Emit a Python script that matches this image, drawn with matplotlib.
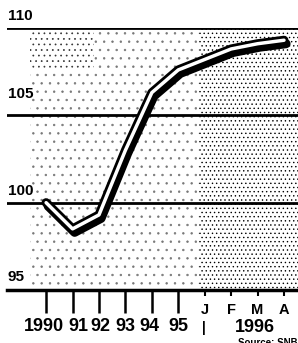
import numpy as np
import matplotlib
matplotlib.use('Agg')
import matplotlib.pyplot as plt
import matplotlib.patheffects as pe
from matplotlib.transforms import blended_transform_factory, offset_copy

# index values (1990 = 100)
periods = ['1990', '91', '92', '93', '94', '95', 'J', 'F', 'M', 'A']
values = [100.0, 98.5, 99.3, 103.0, 106.3, 107.6, 108.2, 108.8, 109.1, 109.3]
gridvals = [100, 105, 110]
ylabels = ['95', '100', '105', '110']
year_idx = [0, 1, 2, 3, 4, 5]
month_idx = [6, 7, 8, 9]

plt.rcParams['font.family'] = ['Liberation Sans', 'DejaVu Sans']
plt.rcParams['hatch.linewidth'] = 0.5
fig = plt.figure(figsize=(2.98, 3.43), dpi=100)
ax = fig.add_axes([7/298, 1-290/343, 1-7/298, (290-28)/343])
ax.set_xlim(-1.48, 9.53)
ax.set_ylim(95, 110)

x = np.arange(len(periods))

# stippled backgrounds
ax.axvspan(-0.6, 5.8, facecolor='white', edgecolor='#777777', hatch='..', lw=0, zorder=0)
ax.fill_between([-0.6, 1.8], 107.6, 110, facecolor='white', edgecolor='#333333', hatch='...', lw=0, zorder=0)
ax.axvspan(5.8, 9.53, facecolor='white', edgecolor='black', hatch='....', lw=0, zorder=0)

for g in gridvals:
    ax.axhline(g, color='black', lw=2, zorder=2)

# double line with shadow
ax.plot(x, values, color='black', lw=6.5, solid_joinstyle='round', solid_capstyle='round', zorder=3,
        path_effects=[pe.SimpleLineShadow(offset=(1.5, -2.5), shadow_color='black', alpha=1.0), pe.Normal()])
ax.plot(x, values, color='white', lw=2.5, solid_joinstyle='round', solid_capstyle='round', zorder=4)

for s in ['top', 'right', 'left']:
    ax.spines[s].set_visible(False)
ax.spines['bottom'].set_linewidth(2.5)
ax.set_yticks([])

ax.set_xticks(year_idx)
ax.set_xticklabels([])
ax.tick_params(axis='x', which='major', length=16.5, width=1.8)
ax.set_xticks(month_idx, minor=True)
ax.set_xticklabels(periods[6:], minor=True, fontsize=10.5, fontweight='bold')
ax.tick_params(axis='x', which='minor', length=4, width=1.5, pad=5)

# year labels, nudged sideways as in the original
xtrans = blended_transform_factory(ax.transData, fig.transFigure)
nudge = [-2, 6, 1, 0, -2, 0]
for i, n in zip(year_idx, nudge):
    ax.text(i, 1-318/343, periods[i], transform=offset_copy(xtrans, fig=fig, x=n, y=0, units='dots'),
            ha='center', va='top', fontsize=13, fontweight='bold')

ytrans = blended_transform_factory(ax.transAxes, ax.transData)
lift = {'95': 6, '100': 5, '105': 14, '110': 5}
for v in ylabels:
    ax.text(0.0, float(v), v, transform=offset_copy(ytrans, fig=fig, x=1, y=lift[v], units='dots'),
            ha='left', va='bottom', fontsize=11, fontweight='bold')

fig.text(255/298, 1-319/343, '1996', ha='center', va='top', fontsize=13, fontweight='bold')
fig.text(204/298, 1-321/343, '|', ha='center', va='top', fontsize=10, fontweight='bold')
fig.text(1.0, 1-338/343, 'Source: SNB', ha='right', va='top', fontsize=7, fontweight='bold')

fig.savefig('out.png', dpi=100)
